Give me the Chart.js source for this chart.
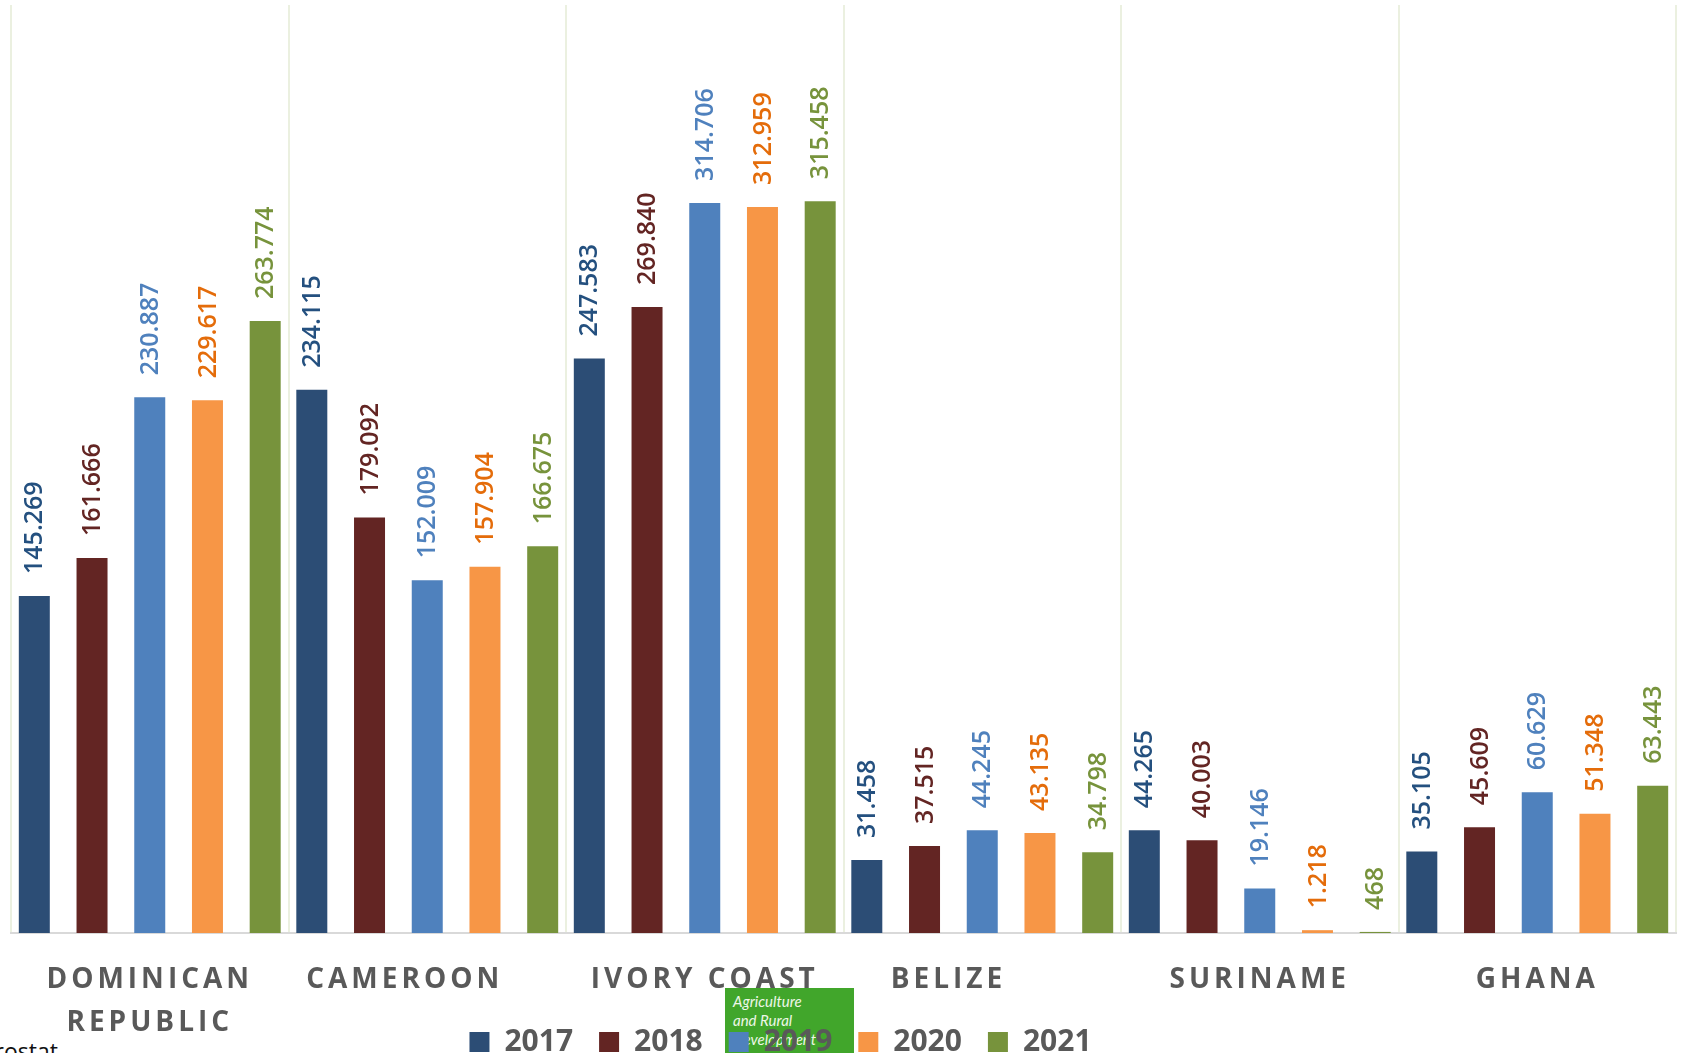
<!DOCTYPE html>
<html lang="en">

<head>
  <meta charset="UTF-8">
  <title>Imports by country</title>
  <style>
    html, body { margin: 0; padding: 0; background: #fff; }
    #wrap { position: relative; width: 1685px; height: 1053px; overflow: hidden; }
    #badge {
      position: absolute; left: 725px; top: 988px; width: 129px; height: 70px;
      background: #41a62b; color: #eef7e8; font-family: Lato, sans-serif; font-style: italic;
      font-size: 15px; line-height: 19px; padding: 4px 0 0 8px; box-sizing: border-box;
    }
    #source {
      position: absolute; right: 1627px; top: 1035px; white-space: nowrap;
      font-family: "Open Sans", sans-serif; font-size: 23px; color: #111;
    }
    canvas { position: absolute; left: 0; top: 0; }
  </style>
</head>

<body>
  <div id="wrap">
    <div id="badge">Agriculture<br>and Rural<br>Development</div>
    <div id="source">Source: Eurostat</div>
    <canvas id="chart" width="1685" height="1053"></canvas>
  </div>

  <script src="https://cdn.jsdelivr.net/npm/chart.js"></script>
  <script>
    // countries on the x axis (trailing blanks as in the source sheet)
    const countries = [['DOMINICAN', 'REPUBLIC'], 'CAMEROON    ', 'IVORY COAST', 'BELIZE      ', 'SURINAME', 'GHANA'];
    const years = ['2017', '2018', '2019', '2020', '2021'];

    // values per year, same order as countries
    const v2017 = [145269, 234115, 247583, 31458, 44265, 35105];
    const v2018 = [161666, 179092, 269840, 37515, 40003, 45609];
    const v2019 = [230887, 152009, 314706, 44245, 19146, 60629];
    const v2020 = [229617, 157904, 312959, 43135, 1218, 51348];
    const v2021 = [263774, 166675, 315458, 34798, 468, 63443];

    const barColors = ['#2c4d75', '#632523', '#4f81bd', '#f79646', '#77933c'];
    const labelColors = ['#24507f', '#632523', '#4f81bd', '#e46c0a', '#77933c'];

    const series = [v2017, v2018, v2019, v2020, v2021];

    // value labels above bars, rotated
    const barLabels = {
      id: 'barLabels',
      afterDatasetsDraw(chart) {
        const ctx = chart.ctx;
        chart.data.datasets.forEach((ds, i) => {
          const meta = chart.getDatasetMeta(i);
          meta.data.forEach((bar, j) => {
            ctx.save();
            ctx.translate(bar.x, bar.y - 22);
            ctx.rotate(-Math.PI / 2);
            ctx.font = '600 25px "Open Sans"';
            ctx.fillStyle = labelColors[i];
            ctx.textAlign = 'left';
            ctx.textBaseline = 'middle';
            ctx.fillText(ds.data[j].toLocaleString('de-DE'), 0, 1);
            ctx.restore();
          });
        });
      }
    };

    // spaced-out country names + legend nudged left/down like the original
    const tweaks = {
      id: 'tweaks',
      afterLayout(chart) {
        chart.legend.left -= 63;
        chart.legend.right -= 63;
        chart.legend.top += 14;
        chart.legend.bottom += 14;
      },
      beforeDraw(chart) {
        const sc = chart.scales.x;
        if (!sc._spaced) {
          const orig = sc.drawLabels.bind(sc);
          sc._computeLabelArea = () => null; // two-line label must not be clipped
          sc.drawLabels = (area) => {
            chart.ctx.save();
            chart.ctx.letterSpacing = '4px';
            orig(area);
            chart.ctx.restore();
          };
          sc._spaced = true;
        }
      }
    };

    function draw() {
      new Chart(document.getElementById('chart'), {
        type: 'bar',
        data: {
          labels: countries,
          datasets: years.map((y, i) => ({
            label: y,
            data: series[i],
            backgroundColor: barColors[i],
            borderWidth: 0,
            categoryPercentage: 1.04,
            barPercentage: 0.537,
          })),
        },
        options: {
          responsive: false,
          animation: false,
          layout: { padding: { left: 11, right: 9, top: 5, bottom: 0 } },
          plugins: {
            tooltip: { enabled: false },
            legend: {
              position: 'bottom',
              labels: {
                color: '#595959',
                font: { family: 'Open Sans', size: 30, weight: 'bold' },
                boxWidth: 20,
                boxHeight: 20,
                padding: 26,
              },
            },
          },
          scales: {
            x: {
              grid: { offset: true, color: '#ebf0e0', lineWidth: 2, drawTicks: false },
              border: { color: '#d9d9d9', width: 2 },
              ticks: {
                padding: 26,
                color: '#595959',
                font: { family: 'Open Sans', size: 28, weight: 'bold', lineHeight: 43 / 28 },
                maxRotation: 0,
                autoSkip: false,
              },
              afterFit: (s) => {
                s.height = s.chart.height - 933 - (s.chart.legend ? s.chart.legend.height : 0);
              },
            },
            y: { display: false, min: 0, max: 400000 },
          },
        },
        plugins: [barLabels, tweaks],
      });
    }

    Promise.all([
      document.fonts.load('bold 28px "Open Sans"'),
      document.fonts.load('600 25px "Open Sans"'),
    ]).then(draw, draw);
  </script>
</body>

</html>
